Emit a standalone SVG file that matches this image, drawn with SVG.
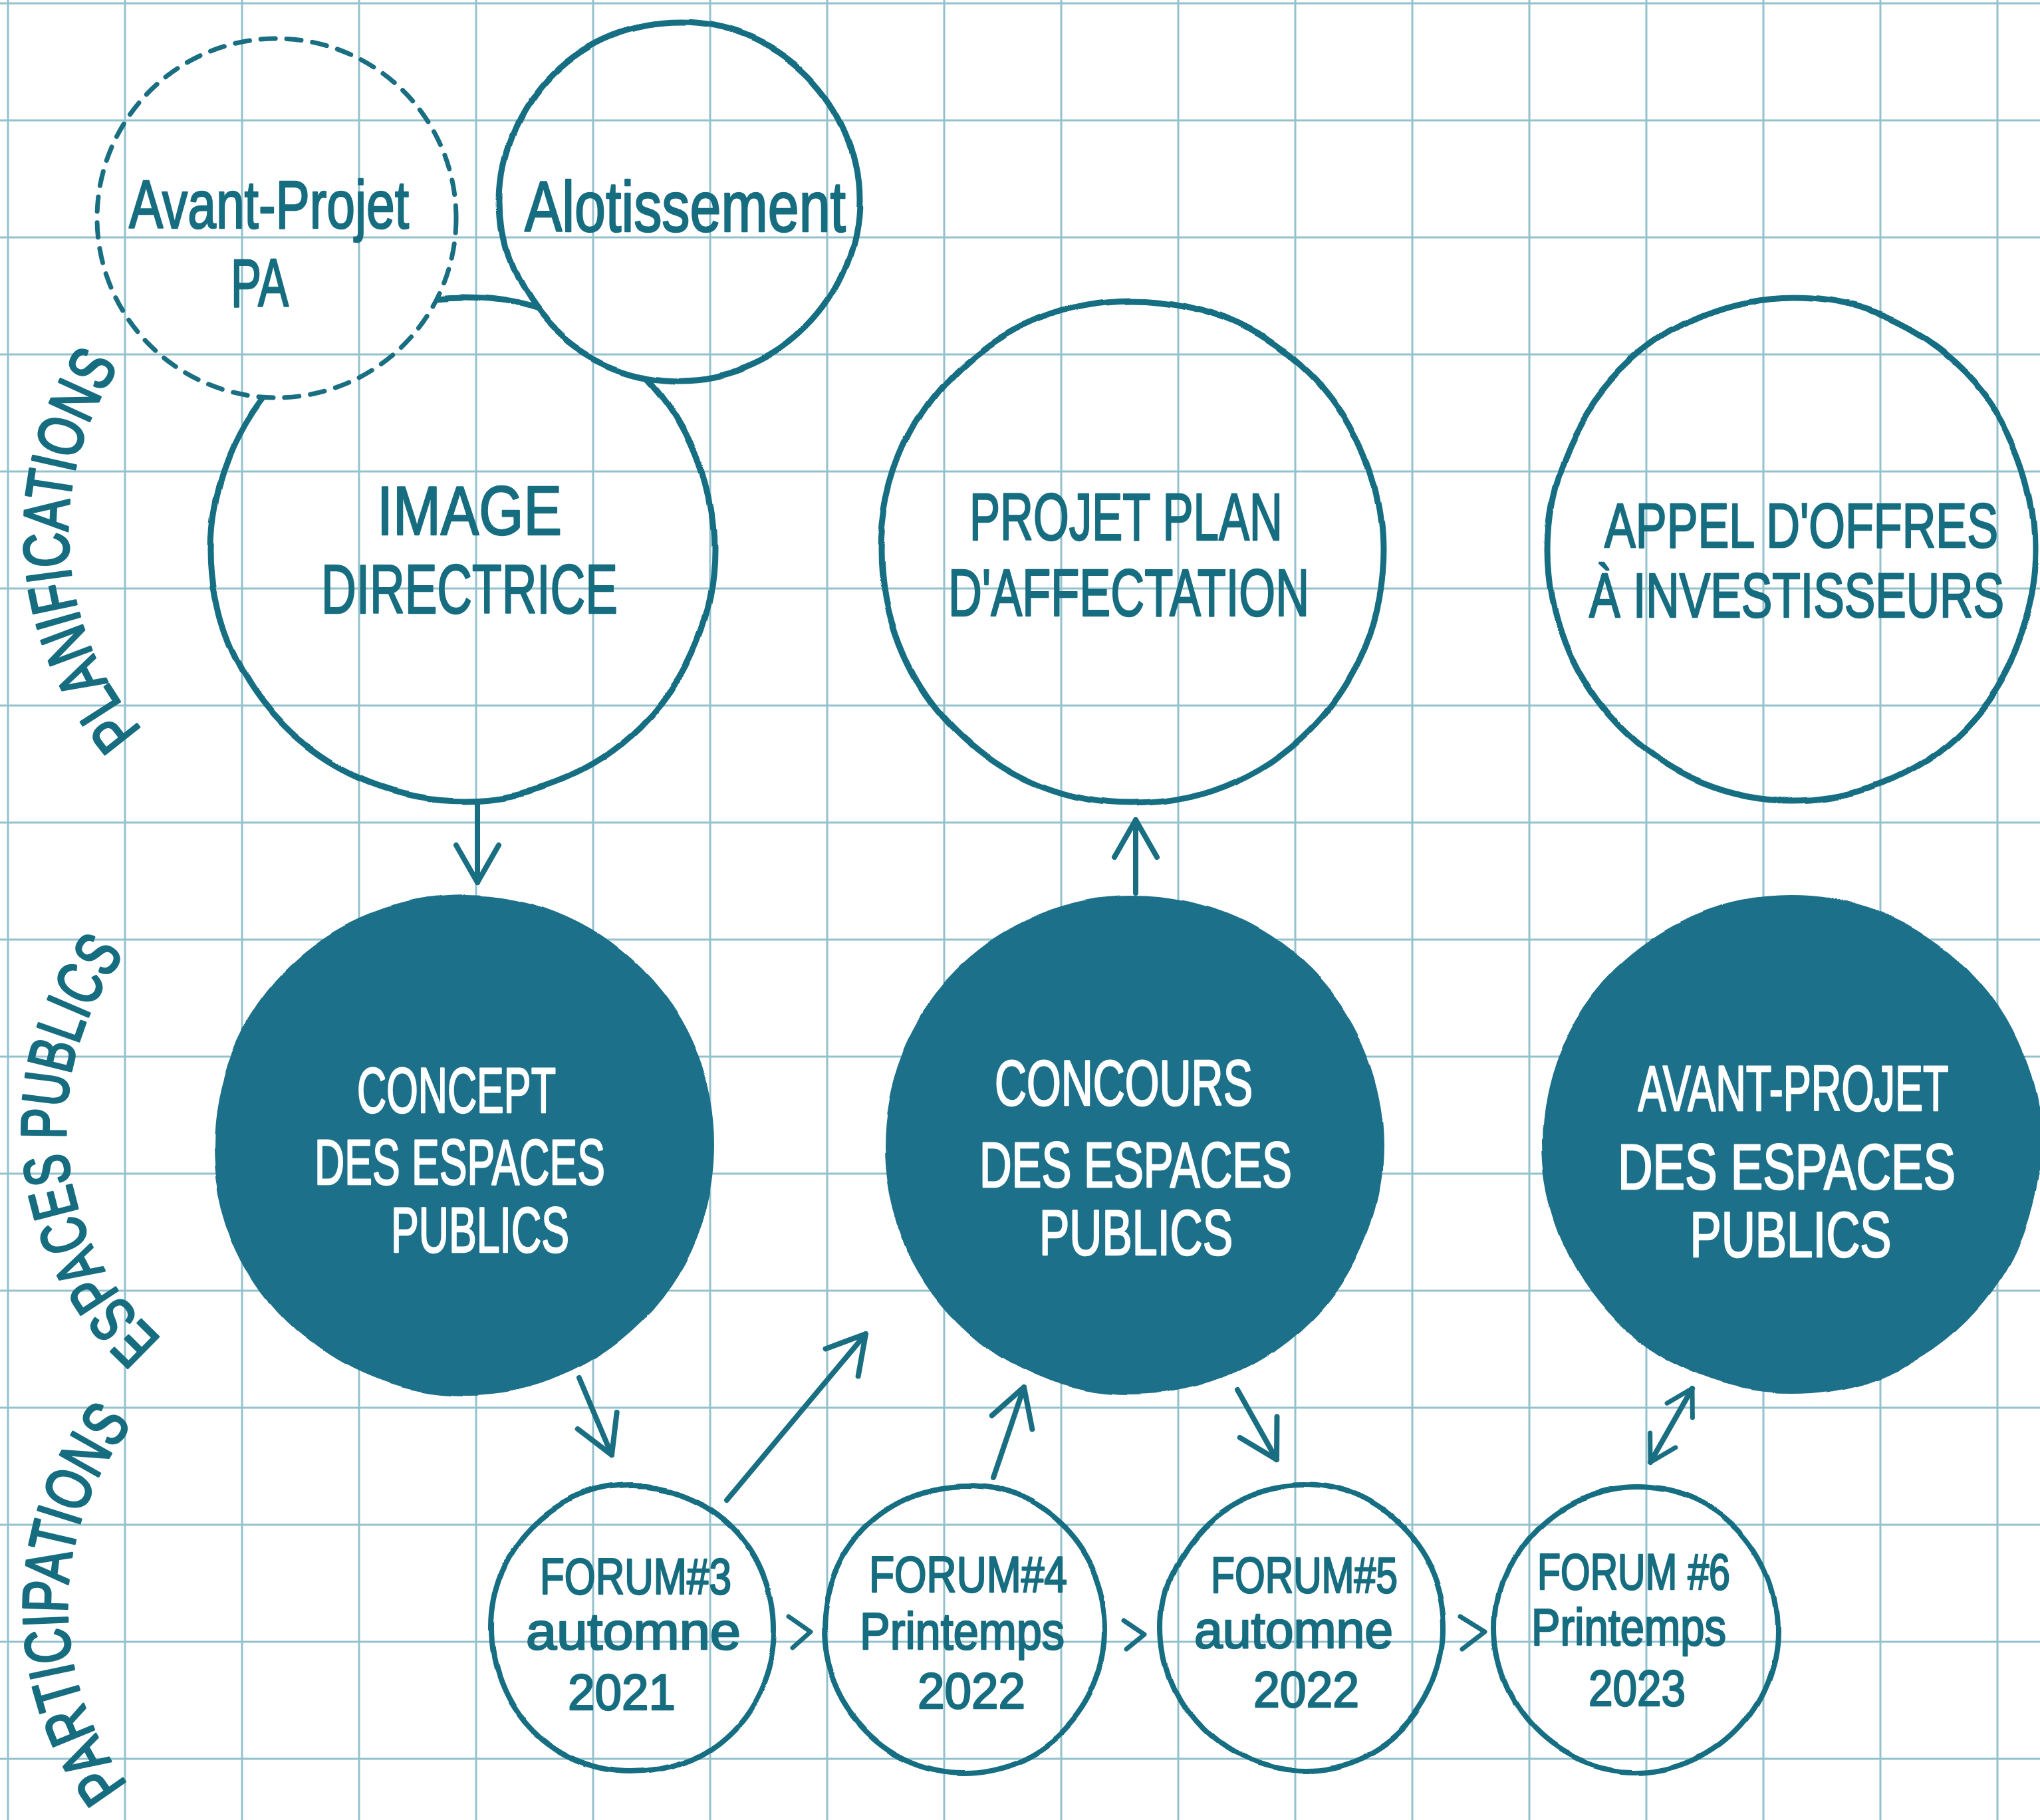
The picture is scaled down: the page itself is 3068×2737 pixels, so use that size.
<svg xmlns="http://www.w3.org/2000/svg" width="3068" height="2737" viewBox="0 0 3068 2737">
<defs>
<style>
.bg{fill:#ffffff}
.grid{stroke:#93c2cd;stroke-width:3;fill:none}
.ring{fill:none;stroke:#196e82;stroke-width:9}
.dash{fill:none;stroke:#196e82;stroke-width:7;stroke-dasharray:22 17;stroke-linecap:round}
.blob{fill:#1c7089;stroke:#1c7089;stroke-width:4}
.fring{fill:none;stroke:#196e82;stroke-width:8}
.t{font-family:"Liberation Sans","DejaVu Sans",sans-serif;fill:#176d80;stroke:#176d80;stroke-width:2.5;stroke-linejoin:round}
.w{font-family:"Liberation Sans","DejaVu Sans",sans-serif;fill:#ffffff;stroke:#ffffff;stroke-width:2.5;stroke-linejoin:round}
.lab{font-family:"Liberation Sans","DejaVu Sans",sans-serif;fill:#176d80;stroke:#176d80;stroke-width:3.5;stroke-linejoin:round}
.conn{fill:none;stroke:#196e82;stroke-width:8;stroke-linecap:round;stroke-linejoin:round}
.chev{fill:none;stroke:#196e82;stroke-width:7;stroke-linecap:round;stroke-linejoin:round}
</style>
<filter id="rough" filterUnits="userSpaceOnUse" x="0" y="0" width="3068" height="2737">
<feTurbulence type="fractalNoise" baseFrequency="0.005" numOctaves="2" seed="3"/>
<feDisplacementMap in="SourceGraphic" scale="14" xChannelSelector="R" yChannelSelector="G"/>
</filter>
<mask id="mImg" maskUnits="userSpaceOnUse" x="0" y="0" width="3068" height="2737">
<rect width="3068" height="2737" fill="#fff"/>
<circle cx="416" cy="328" r="268" fill="#000"/>
<circle cx="1023" cy="303" r="268" fill="#000"/>
</mask>
<marker id="ah" viewBox="-64 -40 72 80" refX="0" refY="0" markerWidth="72" markerHeight="80" markerUnits="userSpaceOnUse" orient="auto-start-reverse" overflow="visible">
<path d="M-56 -32 L0 0 L-56 32" fill="none" stroke="#196e82" stroke-width="8" stroke-linecap="round" stroke-linejoin="round"/>
</marker>
<marker id="ahs" viewBox="-44 -28 52 56" refX="0" refY="0" markerWidth="52" markerHeight="56" markerUnits="userSpaceOnUse" orient="auto-start-reverse" overflow="visible">
<path d="M-38 -22 L0 0 L-38 22" fill="none" stroke="#196e82" stroke-width="7" stroke-linecap="round" stroke-linejoin="round"/>
</marker>
<path id="pPlan" d="M 214 1098 A 449 449 0 0 1 210 510"/>
<path id="pEsp" d="M 243 2014 A 426 426 0 0 1 238 1380"/>
<path id="pPart" d="M 192 2684 A 437 437 0 0 1 221 2117"/>
</defs>

<rect class="bg" x="0" y="0" width="3068" height="2737"/>

<g id="grid">
<path class="grid" d="M12 0V2737M188 0V2737M364 0V2737M540 0V2737M716 0V2737M892 0V2737M1068 0V2737M1244 0V2737M1420 0V2737M1596 0V2737M1772 0V2737M1948 0V2737M2124 0V2737M2300 0V2737M2476 0V2737M2652 0V2737M2828 0V2737M3004 0V2737"/>
<path class="grid" d="M0 5H3068M0 181H3068M0 357H3068M0 533H3068M0 709H3068M0 885H3068M0 1061H3068M0 1237H3068M0 1413H3068M0 1589H3068M0 1765H3068M0 1941H3068M0 2117H3068M0 2293H3068M0 2469H3068M0 2645H3068"/>
</g>

<g id="row-labels">
<text class="lab" font-size="96"><textPath href="#pPlan" textLength="590" lengthAdjust="spacingAndGlyphs">PLANIFICATIONS</textPath></text>
<text class="lab" font-size="96"><textPath href="#pEsp" textLength="640" lengthAdjust="spacingAndGlyphs">ESPACES PUBLICS</textPath></text>
<text class="lab" font-size="96"><textPath href="#pPart" textLength="585" lengthAdjust="spacingAndGlyphs">PARTICIPATIONS</textPath></text>
</g>

<g id="node-image-directrice">
<ellipse class="ring" cx="696" cy="826" rx="378" ry="377" mask="url(#mImg)" filter="url(#rough)"/>
<text class="t" x="567" y="804" font-size="104" textLength="278" lengthAdjust="spacingAndGlyphs">IMAGE</text>
<text class="t" x="483" y="922" font-size="104" textLength="446" lengthAdjust="spacingAndGlyphs">DIRECTRICE</text>
</g>

<g id="node-avant-projet-pa">
<circle class="dash" cx="416" cy="328" r="270"/>
<text class="t" x="194" y="343" font-size="102" textLength="421" lengthAdjust="spacingAndGlyphs">Avant-Projet</text>
<text class="t" x="347" y="461" font-size="102" textLength="87" lengthAdjust="spacingAndGlyphs">PA</text>
</g>

<g id="node-alotissement">
<circle class="ring" cx="1023" cy="303" r="270" filter="url(#rough)"/>
<text class="t" x="789" y="348" font-size="108" textLength="483" lengthAdjust="spacingAndGlyphs">Alotissement</text>
</g>

<g id="node-projet-plan">
<ellipse class="ring" cx="1703" cy="829" rx="377" ry="380" filter="url(#rough)"/>
<text class="t" x="1458" y="812" font-size="100" textLength="471" lengthAdjust="spacingAndGlyphs">PROJET PLAN</text>
<text class="t" x="1426" y="926" font-size="100" textLength="543" lengthAdjust="spacingAndGlyphs">D'AFFECTATION</text>
</g>

<g id="node-appel-offres">
<ellipse class="ring" cx="2695" cy="826" rx="367" ry="378" filter="url(#rough)"/>
<text class="t" x="2709" y="823" font-size="94" text-anchor="middle" textLength="592" lengthAdjust="spacingAndGlyphs">APPEL D'OFFRES</text>
<text class="t" x="2702" y="928" font-size="94" text-anchor="middle" textLength="624" lengthAdjust="spacingAndGlyphs">À INVESTISSEURS</text>
</g>

<g id="node-concept">
<ellipse class="blob" cx="699" cy="1722" rx="376" ry="375" filter="url(#rough)"/>
<text class="w" x="537" y="1673" font-size="96" textLength="299" lengthAdjust="spacingAndGlyphs">CONCEPT</text>
<text class="w" x="473" y="1781" font-size="96" textLength="437" lengthAdjust="spacingAndGlyphs">DES ESPACES</text>
<text class="w" x="588" y="1883" font-size="96" textLength="268" lengthAdjust="spacingAndGlyphs">PUBLICS</text>
</g>

<g id="node-concours">
<ellipse class="blob" cx="1704" cy="1723" rx="374" ry="373" filter="url(#rough)"/>
<text class="w" x="1496" y="1662" font-size="96" textLength="388" lengthAdjust="spacingAndGlyphs">CONCOURS</text>
<text class="w" x="1473" y="1785" font-size="96" textLength="470" lengthAdjust="spacingAndGlyphs">DES ESPACES</text>
<text class="w" x="1563" y="1887" font-size="96" textLength="291" lengthAdjust="spacingAndGlyphs">PUBLICS</text>
</g>

<g id="node-avant-projet-ep">
<ellipse class="blob" cx="2694" cy="1721" rx="373" ry="373" filter="url(#rough)"/>
<text class="w" x="2697" y="1670" font-size="96" text-anchor="middle" textLength="467" lengthAdjust="spacingAndGlyphs">AVANT-PROJET</text>
<text class="w" x="2687" y="1788" font-size="96" text-anchor="middle" textLength="508" lengthAdjust="spacingAndGlyphs">DES ESPACES</text>
<text class="w" x="2693" y="1890" font-size="96" text-anchor="middle" textLength="303" lengthAdjust="spacingAndGlyphs">PUBLICS</text>
</g>

<g id="node-forum3">
<ellipse class="fring" cx="951" cy="2450" rx="212" ry="216" filter="url(#rough)"/>
<text class="t" x="812" y="2397" font-size="76" textLength="288" lengthAdjust="spacingAndGlyphs">FORUM#3</text>
<text class="t" x="791" y="2480" font-size="78" textLength="323" lengthAdjust="spacingAndGlyphs">automne</text>
<text class="t" x="854" y="2571" font-size="76" textLength="162" lengthAdjust="spacingAndGlyphs">2021</text>
</g>

<g id="node-forum4">
<ellipse class="fring" cx="1451" cy="2450" rx="211" ry="215" filter="url(#rough)"/>
<text class="t" x="1307" y="2394" font-size="76" textLength="298" lengthAdjust="spacingAndGlyphs">FORUM#4</text>
<text class="t" x="1293" y="2480" font-size="78" textLength="308" lengthAdjust="spacingAndGlyphs">Printemps</text>
<text class="t" x="1380" y="2569" font-size="76" textLength="162" lengthAdjust="spacingAndGlyphs">2022</text>
</g>

<g id="node-forum5">
<ellipse class="fring" cx="1960" cy="2448" rx="212" ry="215" filter="url(#rough)"/>
<text class="t" x="1821" y="2395" font-size="76" textLength="281" lengthAdjust="spacingAndGlyphs">FORUM#5</text>
<text class="t" x="1796" y="2478" font-size="78" textLength="299" lengthAdjust="spacingAndGlyphs">automne</text>
<text class="t" x="1885" y="2567" font-size="76" textLength="159" lengthAdjust="spacingAndGlyphs">2022</text>
</g>

<g id="node-forum6">
<ellipse class="fring" cx="2460" cy="2450" rx="212" ry="215" filter="url(#rough)"/>
<text class="t" x="2312" y="2390" font-size="76" textLength="290" lengthAdjust="spacingAndGlyphs">FORUM #6</text>
<text class="t" x="2303" y="2474" font-size="78" textLength="293" lengthAdjust="spacingAndGlyphs">Printemps</text>
<text class="t" x="2389" y="2565" font-size="76" textLength="146" lengthAdjust="spacingAndGlyphs">2023</text>
</g>

<g id="connectors">
<path class="conn" d="M718 1206 L718 1327" marker-end="url(#ah)"/>
<path class="conn" d="M1708 1343 L1708 1233" marker-end="url(#ah)"/>
<path class="conn" d="M871 2072 L920 2188" marker-end="url(#ah)"/>
<path class="conn" d="M1093 2256 L1302 2006" marker-end="url(#ah)"/>
<path class="conn" d="M1494 2222 L1540 2086" marker-end="url(#ah)"/>
<path class="conn" d="M1861 2090 L1920 2195" marker-end="url(#ah)"/>
<path class="conn" d="M2482 2199 L2545 2088" marker-start="url(#ahs)" marker-end="url(#ahs)"/>
<polyline class="chev" points="1186,2431 1219,2454 1192,2478"/>
<polyline class="chev" points="1690,2437 1721,2458 1694,2480"/>
<polyline class="chev" points="2196,2431 2233,2454 2199,2480"/>
</g>
</svg>
